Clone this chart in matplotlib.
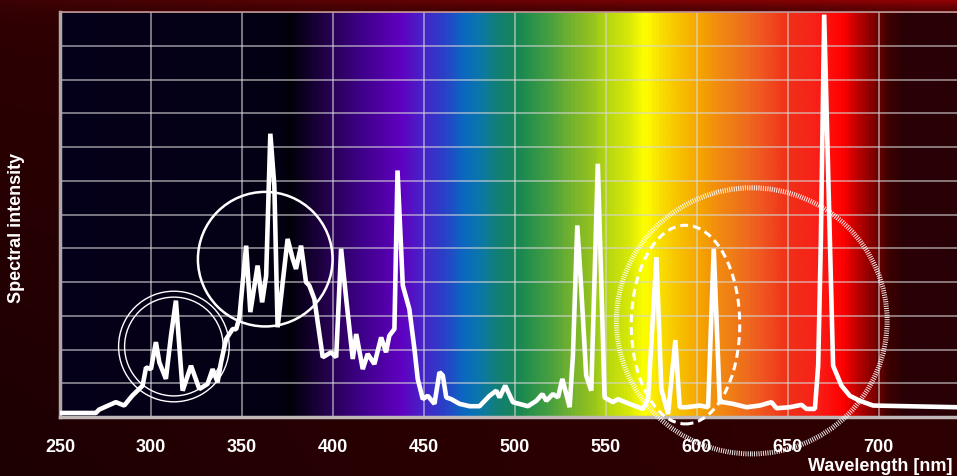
import numpy as np
import matplotlib
matplotlib.use('Agg')
import matplotlib.pyplot as plt
from matplotlib.colors import LinearSegmentedColormap, to_rgb
from matplotlib.patches import Ellipse

plt.rcParams['font.family'] = ['Liberation Sans', 'DejaVu Sans']

# spectrum trace (nm, relative intensity)
wavelength = [250, 269.7, 271.5, 280.7, 285.3, 289.7, 295.4, 297.3, 300.0, 302.7,
              304.6, 308.2, 311.0, 313.7, 317.4, 322.0, 326.6, 331.1, 333.9, 336.6,
              338.5, 341.3, 344.9, 346.8, 348.6, 352.3, 354.6, 358.6, 361.1, 363.3,
              365.6, 367.8, 369.6, 375.1, 377.9, 379.7, 382.5, 385.2, 387.0, 389.8,
              394.4, 399.0, 401.8, 404.5, 407.3, 410.9, 412.8, 416.4, 419.1, 422.8,
              426.5, 429.2, 431.0, 433.8, 435.5, 438.4, 442.0, 444.8, 446.6, 449.4,
              452.1, 455.8, 458.6, 460.4, 462.3, 465.0, 469.6, 475.1, 480.6, 486.1,
              489.8, 491.6, 494.7, 498.9, 507.2, 511.8, 515.1, 517.3, 520.9, 523.7,
              526.1, 530.1, 531.9, 534.3, 536.5, 539.2, 542.0, 545.6, 547.5, 549.3,
              553.9, 556.6, 563.0, 570.4, 573.2, 577.8, 580.5, 584.2, 588.2, 590.6,
              594.3, 601.6, 606.2, 609.3, 612.6, 614.4, 619.9, 627.3, 634.6, 641.0,
              643.8, 651.1, 657.5, 660.3, 664.9, 666.7, 668.2, 670.0, 673.1, 674.9,
              679.5, 684.1, 689.6, 696.9, 743.0]
intensity = [0.12, 0.12, 0.22, 0.44, 0.34, 0.63, 0.93, 1.47, 1.42, 2.22,
             1.62, 1.13, 2.41, 3.45, 0.78, 1.52, 0.83, 0.98, 1.42, 1.03,
             1.62, 2.31, 2.61, 2.60, 2.95, 5.08, 3.11, 4.49, 3.40, 4.19,
             8.40, 6.86, 2.66, 5.28, 4.69, 4.39, 5.08, 4.00, 3.90, 3.50,
             1.77, 1.92, 1.77, 4.99, 3.50, 1.72, 2.46, 1.42, 1.87, 1.57,
             2.36, 1.92, 2.41, 2.61, 7.31, 3.90, 3.20, 2.02, 1.13, 0.53,
             0.63, 0.39, 1.33, 1.23, 0.58, 0.53, 0.39, 0.32, 0.32, 0.63,
             0.78, 0.58, 0.93, 0.44, 0.32, 0.48, 0.68, 0.48, 0.68, 0.58,
             1.13, 0.29, 1.82, 5.68, 3.80, 1.23, 0.78, 7.51, 4.00, 0.58,
             0.44, 0.53, 0.39, 0.24, 0.53, 4.74, 0.83, 0.09, 2.28, 0.29,
             0.29, 0.34, 0.29, 4.99, 0.44, 0.44, 0.39, 0.29, 0.34, 0.44,
             0.26, 0.29, 0.36, 0.24, 0.24, 1.52, 5.30, 11.93, 5.30, 1.52,
             0.93, 0.63, 0.48, 0.34, 0.29]

x_ticks = [250, 300, 350, 400, 450, 500, 550, 600, 650, 700]

# rainbow behind the plot
band_nm = [250, 370, 376, 400, 415, 437, 448, 461, 472, 481, 492, 503, 519, 530,
           541, 552, 563, 572, 580, 591, 602, 613, 629, 640, 651, 667, 681, 689,
           698, 706, 714, 743]
band_color = ['#06001a', '#040014', '#000008', '#2a0058', '#3e0088', '#6000c0',
              '#4a20c8', '#2a40c8', '#0a68c0', '#0c78a8', '#138070', '#1a8850',
              '#45a040', '#70b030', '#90c020', '#b8d810', '#d8e808', '#ffff00',
              '#f8e000', '#f8c000', '#f5a500', '#f28a10', '#ee6a1e', '#f04c20',
              '#f03018', '#f82018', '#ff0000', '#c00000', '#800000', '#400000',
              '#2a0005', '#280005']

# highlight rings: centre nm, centre value, width nm, height value
ring_x = [312.6, 312.6, 362.8, 593.8, 630.2]
ring_y = [2.09, 2.09, 4.68, 2.74, 2.85]
ring_w = [60.8, 54.2, 74.0, 59.6, 148.8]
ring_h = [3.28, 2.93, 3.99, 5.89, 7.89]
ring_style = ['thin', 'thin', 'solid', 'dashed', 'dotted']

fig = plt.figure(figsize=(9.57, 4.77), dpi=100)

# dark red backdrop
H, W = 477, 957
yy, xx = np.mgrid[0:H, 0:W]
fx = xx / W
top = np.exp(-yy / 12.0)
r = 0.18 - 0.07 * (1 - fx) ** 2 * (yy / H) + (0.06 + 0.38 * fx) * top
g = 0.012 * top
b = 0.01 + 0.01 * top
bg = fig.add_axes([0, 0, 1, 1], zorder=-5)
bg.imshow(np.clip(np.dstack([r, g, b]), 0, 1), aspect='auto', extent=[0, 1, 0, 1])
bg.axis('off')

ax = fig.add_axes([60 / 957, 59 / 477, 1 - 60 / 957, (463.7 - 59) / 477])
x0, x1 = 250, 743
stops = [(n - x0) / (x1 - x0) for n in band_nm]
cmap = LinearSegmentedColormap.from_list('rainbow_nm', list(zip(stops, [to_rgb(c) for c in band_color])))
ax.imshow(np.linspace(0, 1, 1000)[None, :], cmap=cmap, aspect='auto',
          extent=[x0, x1, 0, 12], zorder=0)

ax.plot(wavelength, intensity, color='white', lw=3.3, solid_joinstyle='bevel', zorder=3)

for cx, cy, w, h, st in zip(ring_x, ring_y, ring_w, ring_h, ring_style):
    if st == 'thin':
        kw = dict(lw=1.0, ls='-')
    elif st == 'solid':
        kw = dict(lw=1.8, ls='-')
    elif st == 'dashed':
        kw = dict(lw=2.2, ls=(0, (2.6, 1.6)))
    else:
        kw = dict(lw=3.6, ls=(0, (0.2, 0.25)), alpha=0.9)
    ax.add_patch(Ellipse((cx, cy), w, h, fill=False, edgecolor='white',
                         clip_on=False, zorder=4, **kw))

ax.set_xlim(x0, x1)
ax.set_ylim(0, 12)
ax.set_xticks(x_ticks)
ax.set_yticks(range(0, 13))
ax.set_yticklabels([])
ax.grid(True, color='#d8d8d8', lw=1.1, alpha=0.7)
ax.tick_params(axis='both', length=0)
ax.tick_params(axis='x', pad=15, labelcolor='white', labelsize=13)
for lab in ax.get_xticklabels():
    lab.set_fontweight('bold')

ax.spines['right'].set_visible(False)
ax.spines['left'].set_color('#b0a8a8')
ax.spines['left'].set_linewidth(2.5)
ax.spines['bottom'].set_color('#c0b8b8')
ax.spines['bottom'].set_linewidth(2.5)
ax.spines['top'].set_color('#c09090')
ax.spines['top'].set_linewidth(1.2)

fig.text(16.5 / 957, 1 - 227.5 / 477, 'Spectral intensity', rotation=90,
         ha='center', va='center', color='white', fontsize=13, fontweight='bold')
fig.text(953 / 957, 1 - 466.5 / 477, 'Wavelength [nm]', ha='right', va='center',
         color='white', fontsize=13, fontweight='bold')

fig.savefig('out.png', dpi=100)
